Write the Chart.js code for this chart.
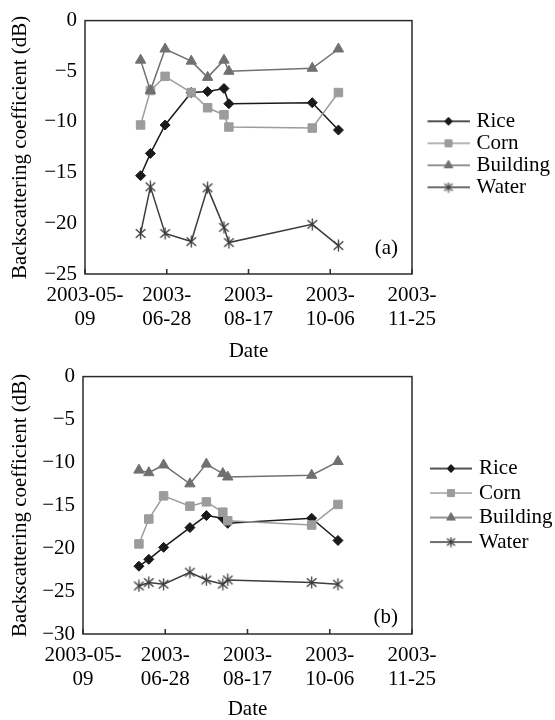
<!DOCTYPE html>
<html>
<head>
<meta charset="utf-8">
<script src="https://cdn.jsdelivr.net/npm/chart.js@4.4.0/dist/chart.umd.min.js"></script>
<style>
  body { margin: 0; background: #fff; }
  #wrap { position: relative; width: 555px; height: 720px; }
  canvas { position: absolute; left: 0; }
</style>
</head>
<body>
<div id="wrap">
  <canvas id="chartA" width="555" height="362" style="top:0"></canvas>
  <canvas id="chartB" width="555" height="364" style="top:356px"></canvas>
</div>
<script>
// acquisition dates (same for both panels)
const startDate = '2003-05-09';
const dates = ['2003-06-12', '2003-06-18', '2003-06-27', '2003-07-13', '2003-07-23',
               '2003-08-02', '2003-08-05', '2003-09-25', '2003-10-11'];

const tickDates = ['2003-05-09', '2003-06-28', '2003-08-17', '2003-10-06', '2003-11-25'];
const tickLabels = [['2003-05-', '09'], ['2003-', '06-28'], ['2003-', '08-17'], ['2003-', '10-06'], ['2003-', '11-25']];

const seriesNames = ['Rice', 'Corn', 'Building', 'Water'];

// panel (a)
const riceA     = [-15.3, -13.1, -10.3, -7.1, -7.0, -6.7, -8.2, -8.1, -10.8];
const cornA     = [-10.3, -6.9, -5.5, -7.1, -8.6, -9.3, -10.5, -10.6, -7.1];
const buildingA = [-3.9, -6.9, -2.8, -4.0, -5.6, -3.9, -5.0, -4.7, -2.8];
const waterA    = [-21.0, -16.4, -21.0, -21.8, -16.5, -20.4, -21.9, -20.1, -22.2];

// panel (b)
const riceB     = [-22.1, -21.3, -19.9, -17.6, -16.2, -16.5, -17.1, -16.5, -19.1];
const cornB     = [-19.5, -16.6, -13.9, -15.1, -14.6, -15.8, -16.8, -17.3, -14.9];
const buildingB = [-10.9, -11.2, -10.3, -12.5, -10.2, -11.3, -11.7, -11.5, -9.9];
const waterB    = [-24.4, -24.0, -24.2, -22.8, -23.7, -24.2, -23.7, -24.0, -24.2];

const dayMs = 86400000;
const toDay = d => (Date.parse(d) - Date.parse(startDate)) / dayMs;
const xDays = dates.map(toDay);
const tickDays = tickDates.map(toDay);

const seriesColors = ['#1a1a1a', '#9c9c9c', '#707070', '#3c3c3c'];
const fontFamily = '"Liberation Serif", "Times New Roman", serif';

// asterisk marker like the one excel uses
function asterisk(size, color) {
    const c = document.createElement('canvas');
    c.width = c.height = size;
    const g = c.getContext('2d');
    const m = size / 2, r = size / 2 - 0.5;
    g.strokeStyle = color;
    g.lineWidth = 1.3;
    g.beginPath();
    g.moveTo(m, m - r); g.lineTo(m, m + r);
    g.moveTo(m - r * 0.8, m - r * 0.7); g.lineTo(m + r * 0.8, m + r * 0.7);
    g.moveTo(m - r * 0.8, m + r * 0.7); g.lineTo(m + r * 0.8, m - r * 0.7);
    g.stroke();
    return c;
}

const markerStyles = ['rectRot', 'rect', 'triangle', asterisk(13, seriesColors[3])];
const markerRadius = [5, 6, 6, 6];
const legendMarkers = ['rectRot', 'rect', 'triangle', asterisk(11, seriesColors[3])];
const legendRadius = [4, 5, 5, 5];

function legendIcon(i) {
    const c = document.createElement('canvas');
    c.width = 60;
    c.height = 14;
    const g = c.getContext('2d');
    g.strokeStyle = seriesColors[i];
    g.fillStyle = seriesColors[i];
    g.lineWidth = 1.5;
    g.beginPath();
    g.moveTo(18, 7);
    g.lineTo(60, 7);
    g.stroke();
    g.lineWidth = 1;
    Chart.helpers.drawPoint(g, {pointStyle: legendMarkers[i], radius: legendRadius[i], rotation: 0, borderWidth: 1}, 39, 7);
    return c;
}
const legendIcons = seriesNames.map((n, i) => legendIcon(i));

// frame round the plot, inside ticks on x, panel letter
const frame = {
    id: 'frame',
    afterDraw(chart, args, opts) {
        const {ctx, chartArea: a} = chart;
        const x = chart.scales.x;
        ctx.save();
        ctx.strokeStyle = '#2b2b2b';
        ctx.lineWidth = 1.5;
        ctx.strokeRect(a.left, a.top, a.width, a.height);
        ctx.beginPath();
        x.ticks.forEach(t => {
            const px = x.getPixelForValue(t.value);
            ctx.moveTo(px, a.bottom);
            ctx.lineTo(px, a.bottom - 5);
        });
        ctx.stroke();
        ctx.fillStyle = '#000';
        ctx.font = '21px ' + fontFamily;
        ctx.textAlign = 'right';
        ctx.textBaseline = 'middle';
        ctx.fillText(opts.label, a.right - 14, a.bottom - opts.labelOffset);
        ctx.restore();
    }
};

// fixed legend width so the plot ends where it does in the figure
const legendWidth = {
    id: 'legendWidth',
    beforeInit(chart) {
        const fit = chart.legend.fit;
        chart.legend.fit = function() {
            fit.call(this);
            this.width = 555 - 412;
        };
    }
};

function buildPanel(id, values, opts) {
    const font = {family: fontFamily, size: 21};
    new Chart(document.getElementById(id), {
        type: 'line',
        data: {
            datasets: seriesNames.map((name, i) => ({
                label: name,
                data: xDays.map((x, j) => ({x: x, y: values[i][j]})),
                borderColor: seriesColors[i],
                backgroundColor: seriesColors[i],
                borderWidth: 1.5,
                pointStyle: markerStyles[i],
                pointRadius: markerRadius[i],
                pointHoverRadius: markerRadius[i],
                pointBorderWidth: 1,
                tension: 0,
                order: seriesNames.length - i
            }))
        },
        options: {
            responsive: false,
            animation: false,
            devicePixelRatio: 1,
            layout: {padding: {top: 14, left: 0, right: 0, bottom: 0}},
            scales: {
                x: {
                    type: 'linear',
                    min: 0,
                    max: 200,
                    afterBuildTicks: s => { s.ticks = tickDays.map(v => ({value: v})); },
                    afterFit: s => { s.height = opts.xAxisHeight; },
                    ticks: {
                        autoSkip: false,
                        maxRotation: 0,
                        padding: 9,
                        color: '#000',
                        font: {family: fontFamily, size: 21, lineHeight: 1.15},
                        callback: (v, i) => tickLabels[i]
                    },
                    title: {
                        display: true,
                        text: 'Date',
                        color: '#000',
                        font: {family: fontFamily, size: 21, lineHeight: 1},
                        padding: {top: 0, bottom: 0}
                    },
                    grid: {display: false, drawTicks: false},
                    border: {display: false}
                },
                y: {
                    min: opts.yMin,
                    max: 0,
                    afterFit: s => { s.width = opts.yAxisWidth; },
                    ticks: {
                        stepSize: 5,
                        padding: 8,
                        color: '#000',
                        font: font,
                        callback: v => v < 0 ? '\u2212' + (-v) : String(v)
                    },
                    title: {
                        display: true,
                        text: 'Backscattering coefficient (dB)',
                        color: '#000',
                        font: {family: fontFamily, size: 21, lineHeight: 1},
                        padding: {top: 9.5, bottom: 0}
                    },
                    grid: {display: false, drawTicks: false},
                    border: {display: false}
                }
            },
            plugins: {
                legend: {
                    position: 'right',
                    fullSize: false,
                    title: opts.legendTitle,
                    labels: {
                        usePointStyle: true,
                        pointStyleWidth: 53,
                        padding: opts.legendGap,
                        textAlign: 'left',
                        color: '#000',
                        font: font,
                        generateLabels: () => seriesNames.map((name, i) => ({
                            text: name,
                            fontColor: '#000',
                            pointStyle: legendIcons[i],
                            fillStyle: 'rgba(0,0,0,0)',
                            strokeStyle: 'rgba(0,0,0,0)',
                            lineWidth: 0,
                            hidden: false,
                            datasetIndex: i
                        }))
                    }
                },
                tooltip: {enabled: false},
                frame: {label: opts.label, labelOffset: opts.labelOffset}
            }
        },
        plugins: [frame, legendWidth]
    });
}

buildPanel('chartA', [riceA, cornA, buildingA, waterA], {
    yMin: -25, yAxisWidth: 85, xAxisHeight: 88, legendGap: 1,
    legendTitle: {display: true, text: ' ', color: '#fff', font: {size: 10}, padding: {top: 0, bottom: 2}},
    label: '(a)', labelOffset: 26
});

buildPanel('chartB', [riceB, cornB, buildingB, waterB], {
    yMin: -30, yAxisWidth: 83, xAxisHeight: 86, legendGap: 3.5,
    legendTitle: {display: false},
    label: '(b)', labelOffset: 17
});
</script>
</body>
</html>
